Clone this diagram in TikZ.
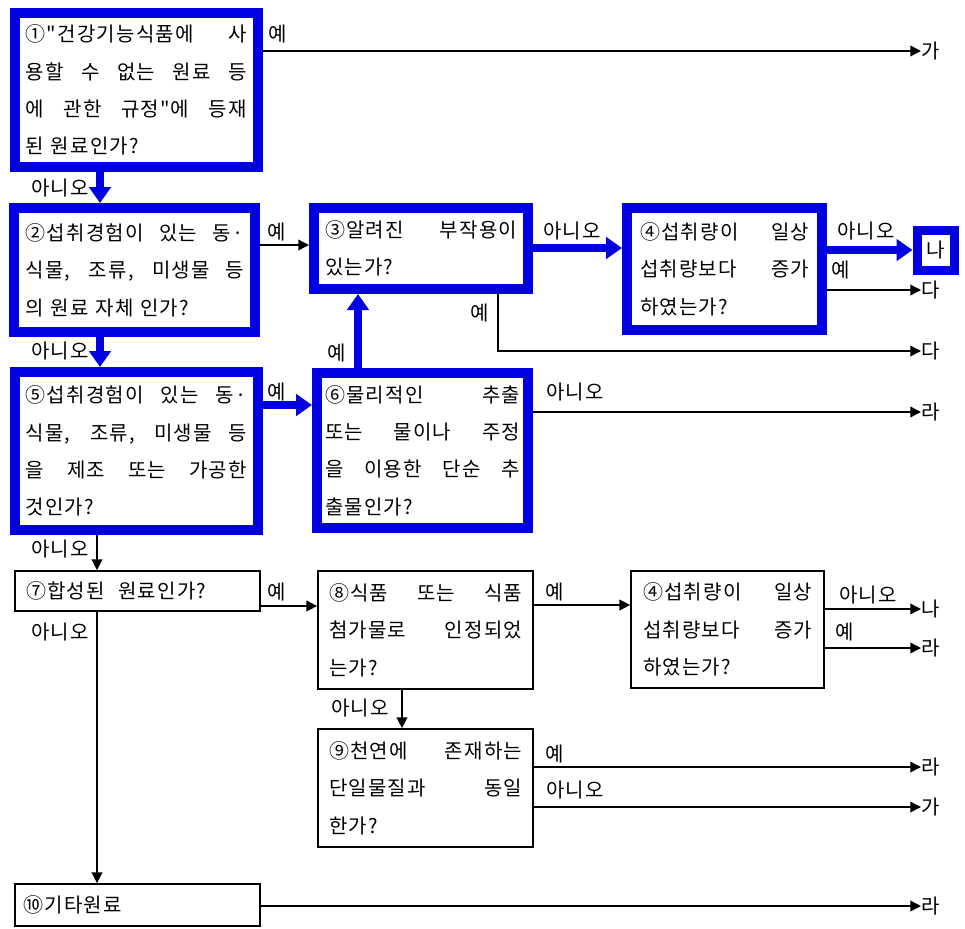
\documentclass[tikz,border=0pt]{standalone}
\usepackage{fontspec}
\newfontfamily\krfont{Noto Sans CJK KR}[LetterSpace=6]
\setmainfont{Noto Sans CJK KR}
\usetikzlibrary{arrows.meta}
\setlength{\parindent}{0pt}
\definecolor{fblue}{RGB}{0,0,225}
\newcommand\jl[2]{\makebox[#1][s]{\spaceskip=.2em plus 1fil\relax #2}}
\begin{document}
\begin{tikzpicture}[x=0.75pt,y=-0.75pt,
 every node/.style={font=\krfont\fontsize{15pt}{28pt}\selectfont},
 bbox/.style={draw=fblue,line width=7.5pt,rectangle,inner sep=2pt,align=left,fill=white},
 tbox/.style={draw=black,line width=1.3pt,rectangle,inner sep=2pt,align=left,fill=white},
 conn/.style={line width=1.1pt,-{Triangle[length=8pt,width=8pt]}},
 bconn/.style={draw=fblue,line width=6.5pt,-{Triangle[length=12pt,width=16pt]}},
 lab/.style={inner sep=0pt},
 term/.style={inner sep=0pt,anchor=west}]
\useasboundingbox (0,0) rectangle (965,929);

% coordinates for connector columns/rows
\coordinate (x100) at (100,0);
\coordinate (x97) at (97,0);
\coordinate (x358) at (358,0);
\coordinate (x402) at (402,0);
\coordinate (x498) at (498,0);
\coordinate (h245) at (0,245);
\coordinate (h248) at (0,248);
\coordinate (h405) at (0,405);
\coordinate (h606) at (0,606);
\coordinate (h605) at (0,605);

% boxes
\node[bbox,minimum width=182.6pt,minimum height=115.5pt,text width=165.75pt] (B1) at (136.25,90)
 {\jl{165.75pt}{①"건강기능식품에 사}\\\jl{165.75pt}{용할 수 없는 원료 등}\\\jl{165.75pt}{에 관한 규정"에 등재}\\된 원료인가?};
\node[bbox,minimum width=180.4pt,minimum height=93pt,text width=163.5pt] (B2) at (134.75,270)
 {\jl{163.5pt}{②섭취경험이 있는 동·}\\\jl{163.5pt}{식물, 조류, 미생물 등}\\의 원료 자체 인가?};
\node[bbox,minimum width=182.6pt,minimum height=118.5pt,text width=165.75pt] (B5) at (136.25,451)
 {\jl{165.75pt}{⑤섭취경험이 있는 동·}\\\jl{165.75pt}{식물, 조류, 미생물 등}\\\jl{165.75pt}{을 제조 또는 가공한}\\것인가?};
\node[bbox,minimum width=160.5pt,minimum height=60.75pt,text width=144pt] (B3) at (421,248.5)
 {\jl{144pt}{③알려진 부작용이}\\있는가?};
\node[bbox,minimum width=158.25pt,minimum height=116.25pt,text width=146.25pt] (B6) at (422.5,450.5)
 {\jl{146.25pt}{⑥물리적인 추출}\\\jl{146.25pt}{또는 물이나 주정}\\\jl{146.25pt}{을 이용한 단순 추}\\출물인가?};
\node[bbox,minimum width=146.25pt,minimum height=91.5pt,text width=126.75pt] (B4) at (724.5,269)
 {\jl{126.75pt}{④섭취량이 일상}\\\jl{126.75pt}{섭취량보다 증가}\\하였는가?};
\node[bbox,line width=6.75pt,inner sep=0pt,minimum width=27.75pt,minimum height=30pt] (Bna) at (935.5,250) {나};

\node[tbox,minimum width=183.75pt,minimum height=30pt,text width=167pt] (B7) at (137.5,591)
 {⑦합성된 \ 원료인가?};
\node[tbox,minimum width=161.25pt,minimum height=88.5pt,text width=144.75pt] (B8) at (425.5,630)
 {\jl{144.75pt}{⑧식품 또는 식품}\\\jl{144.75pt}{첨가물로 인정되었}\\는가?};
\node[tbox,minimum width=144.75pt,minimum height=87.75pt,text width=126.75pt] (B4b) at (727.5,629.5)
 {\jl{126.75pt}{④섭취량이 일상}\\\jl{126.75pt}{섭취량보다 증가}\\하였는가?};
\node[tbox,minimum width=161.25pt,minimum height=88.5pt,text width=144.75pt] (B9) at (425.5,788)
 {\jl{144.75pt}{⑨천연에 존재하는}\\\jl{144.75pt}{단일물질과 동일}\\한가?};
\node[tbox,minimum width=183.75pt,minimum height=31.5pt,text width=171pt] (B10) at (137.5,905)
 {⑩기타원료};

% terminals
\node[term] (T1) at (921,51) {가};
\node[term] (T3) at (921,290) {다};
\node[term] (T4) at (921,351) {다};
\node[term] (T5) at (921,412) {라};
\node[term] (T6) at (921,609) {나};
\node[term] (T7) at (921,648) {라};
\node[term] (T8) at (921,767) {라};
\node[term] (T9) at (921,807) {가};
\node[term] (T10) at (921,906) {라};

% blue connectors
\draw[bconn] (B1.south -| x100) -- (B2.north -| x100);
\draw[bconn] (B2.south -| x100) -- (B5.north -| x100);
\draw[bconn] (B5.east |- h405) -- (B6.west |- h405);
\draw[bconn] (B6.north -| x358) -- (B3.south -| x358);
\draw[bconn] (B3.east |- h248) -- (B4.west |- h248);
\draw[bconn] (B4.east |- Bna.west) -- (Bna.west);

% thin connectors
\draw[conn] (B1.east |- T1.west) -- (T1.west);
\draw[conn] (B2.east |- h245) -- (B3.west |- h245);
\draw[conn] (B4.east |- T3.west) -- (T3.west);
\draw[conn] (B3.south -| x498) |- (T4.west);
\draw[conn] (B6.east |- T5.west) -- (T5.west);
\draw[conn] (B5.south -| x97) -- (B7.north -| x97);
\draw[conn] (B7.east |- h606) -- (B8.west |- h606);
\draw[conn] (B7.south -| x97) -- (B10.north -| x97);
\draw[conn] (B8.east |- h605) -- (B4b.west |- h605);
\draw[conn] (B8.south -| x402) -- (B9.north -| x402);
\draw[conn] (B4b.east |- T6.west) -- (T6.west);
\draw[conn] (B4b.east |- T7.west) -- (T7.west);
\draw[conn] (B9.east |- T8.west) -- (T8.west);
\draw[conn] (B9.east |- T9.west) -- (T9.west);
\draw[conn] (B10.east |- T10.west) -- (T10.west);

% labels
\node[lab] (L1) at (278,34) {예};
\node[lab] (L2) at (60,188) {아니오};
\node[lab] (L3) at (277,232) {예};
\node[lab] (L4) at (60,351) {아니오};
\node[lab] (L5) at (277,392) {예};
\node[lab] (L6) at (60,549) {아니오};
\node[lab] (L7) at (277,592) {예};
\node[lab] (L8) at (60,632) {아니오};
\node[lab] (L9) at (572,231) {아니오};
\node[lab] (L10) at (480,313) {예};
\node[lab] (L11) at (337,353) {예};
\node[lab] (L12) at (575,392) {아니오};
\node[lab] (L13) at (866,231) {아니오};
\node[lab] (L14) at (841,270) {예};
\node[lab] (L15) at (555,592) {예};
\node[lab] (L16) at (360,708) {아니오};
\node[lab] (L17) at (868,595) {아니오};
\node[lab] (L18) at (845,632) {예};
\node[lab] (L19) at (555,754) {예};
\node[lab] (L20) at (575,790) {아니오};
\end{tikzpicture}
\end{document}
